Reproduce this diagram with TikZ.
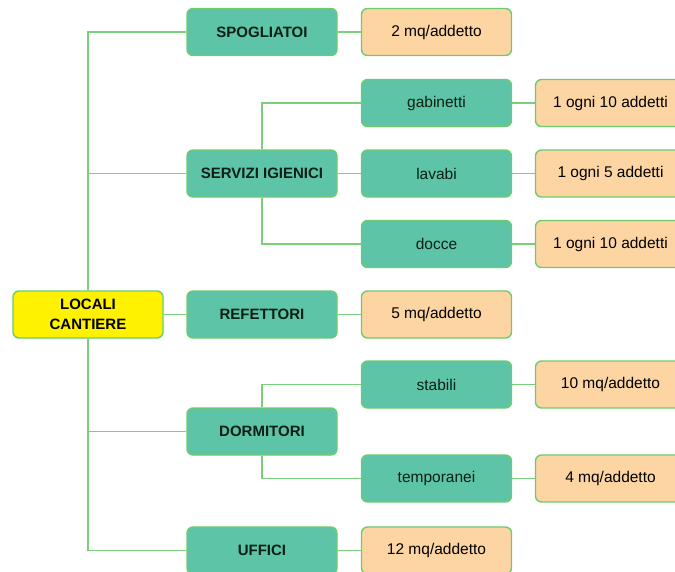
\documentclass[tikz,border=0pt]{standalone}
\usepackage{fontspec}
\setmainfont{Liberation Sans}
\usetikzlibrary{backgrounds}
\definecolor{boxgreen}{HTML}{5DC4A7}
\definecolor{edgegreen}{HTML}{6FCB6F}
\definecolor{linegreen}{HTML}{7ACF7A}
\definecolor{boxorange}{HTML}{FDD5A3}
\definecolor{boxyellow}{HTML}{FFF200}
\definecolor{txtdark}{HTML}{0A1F14}
\begin{document}
\begin{tikzpicture}[x=1pt,y=-1pt,
  base/.style={draw=edgegreen,line width=1.4pt,rounded corners=6pt,minimum width=150pt,minimum height=47pt,inner sep=0pt,align=center},
  catbox/.style={base,fill=boxgreen,text=txtdark,font=\fontsize{15}{17}\selectfont\bfseries},
  subbox/.style={base,fill=boxgreen,text=txtdark,font=\fontsize{15.5}{18}\selectfont},
  valbox/.style={base,fill=boxorange,text=black,font=\fontsize{15.5}{18}\selectfont},
  rootbox/.style={base,fill=boxyellow,text=black,font=\fontsize{15}{19.5}\selectfont\bfseries},
  link/.style={draw=linegreen,line width=1.4pt}]
\useasboundingbox (0,0) rectangle (675,571);
\coordinate (t1) at (88,32);
\coordinate (t2) at (88,173.5);
\coordinate (t4) at (88,431.5);
\coordinate (t5) at (88,550.5);
\coordinate (s1) at (262,103);
\coordinate (s3) at (262,244);
\coordinate (d1) at (262,384.5);
\coordinate (d2) at (262,478.5);
% nodes
\node[rootbox] (root) at (88,314.5) {LOCALI\\CANTIERE};
\node[catbox] (spo) at (262,32) {SPOGLIATOI};
\node[catbox] (ser) at (262,173.5) {SERVIZI IGIENICI};
\node[catbox] (ref) at (262,314.5) {REFETTORI};
\node[catbox] (dor) at (262,431.5) {DORMITORI};
\node[catbox] (uff) at (262,550.5) {UFFICI};
\node[subbox] (gab) at (436.5,103) {gabinetti};
\node[subbox] (lav) at (436.5,173.5) {lavabi};
\node[subbox] (doc) at (436.5,244) {docce};
\node[subbox] (sta) at (436.5,384.5) {stabili};
\node[subbox] (tem) at (436.5,478.5) {temporanei};
\node[valbox] (vspo) at (436.5,32) {2 mq/addetto};
\node[valbox] (vref) at (436.5,314.5) {5 mq/addetto};
\node[valbox] (vuff) at (436.5,550.5) {12 mq/addetto};
\node[valbox] (vgab) at (610.5,103) {1 ogni 10 addetti};
\node[valbox] (vlav) at (610.5,173.5) {1 ogni 5 addetti};
\node[valbox] (vdoc) at (610.5,244) {1 ogni 10 addetti};
\node[valbox] (vsta) at (610.5,384.5) {10 mq/addetto};
\node[valbox] (vtem) at (610.5,478.5) {4 mq/addetto};
\begin{scope}[on background layer]
  \draw[link] (root.north) -- (t1) -- (spo.west);
  \draw[link] (t2) -- (ser.west);
  \draw[link] (root.east) -- (ref.west);
  \draw[link] (root.south) -- (t5) -- (uff.west);
  \draw[link] (t4) -- (dor.west);
  \draw[link] (ser.north) -- (s1) -- (gab.west);
  \draw[link] (ser.east) -- (lav.west);
  \draw[link] (ser.south) -- (s3) -- (doc.west);
  \draw[link] (dor.north) -- (d1) -- (sta.west);
  \draw[link] (dor.south) -- (d2) -- (tem.west);
  \draw[link] (spo.east) -- (vspo.west);
  \draw[link] (ref.east) -- (vref.west);
  \draw[link] (uff.east) -- (vuff.west);
  \draw[link] (gab.east) -- (vgab.west);
  \draw[link] (lav.east) -- (vlav.west);
  \draw[link] (doc.east) -- (vdoc.west);
  \draw[link] (sta.east) -- (vsta.west);
  \draw[link] (tem.east) -- (vtem.west);
\end{scope}
\end{tikzpicture}
\end{document}
